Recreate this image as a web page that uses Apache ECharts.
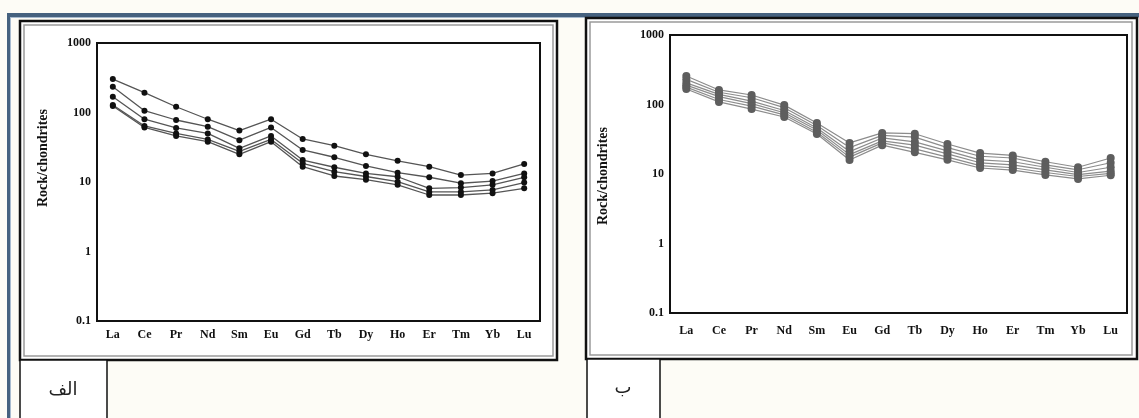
<!DOCTYPE html>
<html>
<head>
<meta charset="utf-8">
<script src="https://cdn.jsdelivr.net/npm/echarts@6/dist/echarts.min.js"></script>
<style>
html,body{margin:0;padding:0;background:#fdfcf6;}
#c{width:1139px;height:418px;}
</style>
</head>
<body>
<div id="c"></div>
<script>
const categories = ['La','Ce','Pr','Nd','Sm','Eu','Gd','Tb','Dy','Ho','Er','Tm','Yb','Lu'];
const yTickLabels = ['0.1','1','10','100','1000'];
const yAxisTitle = 'Rock/chondrites';
const panelLabelA = 'الف';
const panelLabelB = 'ب';

// Panel A (الف)
const a1 = [303,193,121,80,55,80,41.6,33.3,25,20.2,16.6,12.6,13.3,18.2];
const a2 = [235,106,78,62.5,40,61,28.9,22.7,17,13.6,11.7,9.6,10.3,13.3];
const a3 = [169,80,60,50,30.5,46,20.7,16.3,13.3,11.9,8.1,8.3,9.1,11.7];
const a4 = [128,64,50,41,27.5,41,18.6,14.1,12,10.1,7.2,7.2,7.7,9.8];
const a5 = [124,61,46,38,25,38,16.6,12.2,10.8,9.1,6.5,6.5,6.9,8.1];

// Panel B (ب)
const b1 = [257,162,137,98,54,28,39,38,27,20,18.5,15,12.5,17];
const b2 = [230,150,125,90,50,24,36,34,24,18,17,13.5,11.5,14.5];
const b3 = [205,140,112,82,46,21,33,29,21.5,16,15,12.5,10.5,12.5];
const b4 = [190,130,103,76,43,19,30,26,19.5,14.5,13.5,11.5,9.8,11];
const b5 = [178,118,95,71,40,17.5,28,23,17.5,13.2,12.3,10.5,9.2,10.2];
const b6 = [167,109,86,66,37.7,15.9,26,20.5,16,12.2,11.4,9.7,8.5,9.6];

const seriesA = [a1,a2,a3,a4,a5];
const seriesB = [b1,b2,b3,b4,b5,b6];

const serif = 'Liberation Serif';

function xAxisCfg(gi, margin){
  return {
    type:'category', gridIndex:gi, data:categories, boundaryGap:true,
    axisLine:{show:false}, axisTick:{show:false}, splitLine:{show:false},
    axisLabel:{color:'#111', fontFamily:serif, fontWeight:'bold', fontSize:12, margin:margin, interval:0}
  };
}
function yAxisCfg(gi){
  return {
    type:'log', logBase:10, gridIndex:gi, min:0.1, max:1000, splitNumber:4,
    axisLine:{show:false}, axisTick:{show:false}, splitLine:{show:false},
    axisLabel:{color:'#111', fontFamily:serif, fontWeight:'bold', fontSize:12, margin:6,
      formatter:function(v, i){ return yTickLabels[i]; }}
  };
}

const series = [];
seriesA.forEach(function(d){
  series.push({type:'line', xAxisIndex:0, yAxisIndex:0, data:d, symbol:'circle', symbolSize:6,
    itemStyle:{color:'#111'}, lineStyle:{color:'#555', width:1.3}, silent:true, animation:false, z:3});
});
seriesB.forEach(function(d){
  series.push({type:'line', xAxisIndex:1, yAxisIndex:1, data:d, symbol:'circle', symbolSize:8,
    itemStyle:{color:'#5e5e5e'}, lineStyle:{color:'#8c8c8c', width:1.2}, silent:true, animation:false, z:3});
});

const chart = echarts.init(document.getElementById('c'), null, {renderer:'canvas'});
chart.setOption({
  backgroundColor:'#fdfcf6',
  animation:false,
  grid:[
    {left:97, top:43, width:443, height:278, show:true, borderColor:'#111', borderWidth:2, backgroundColor:'#fff'},
    {left:670, top:35, width:457, height:278, show:true, borderColor:'#111', borderWidth:2, backgroundColor:'#fff'}
  ],
  xAxis:[xAxisCfg(0,8), xAxisCfg(1,12)],
  yAxis:[yAxisCfg(0), yAxisCfg(1)],
  series:series,
  graphic:[
    // outer blue frame
    {type:'rect', z:-20, shape:{x:7,y:13,width:1132,height:4}, style:{fill:'#46627f'}},
    {type:'rect', z:-20, shape:{x:7,y:17,width:1132,height:1}, style:{fill:'#a9bcd0'}},
    {type:'rect', z:-20, shape:{x:7,y:13,width:3,height:405}, style:{fill:'#46627f'}},
    {type:'rect', z:-20, shape:{x:10,y:17,width:1,height:401}, style:{fill:'#a9bcd0'}},
    // left panel frame
    {type:'rect', z:-15, shape:{x:20,y:21,width:537,height:339}, style:{fill:'#fff', stroke:'#111', lineWidth:2.5}},
    {type:'rect', z:-14, shape:{x:24,y:25,width:529,height:331}, style:{fill:'#fff', stroke:'#9a9a9a', lineWidth:1.5}},
    // right panel frame
    {type:'rect', z:-15, shape:{x:586,y:18,width:551,height:341}, style:{fill:'#fff', stroke:'#111', lineWidth:2.5}},
    {type:'rect', z:-14, shape:{x:590,y:22,width:542,height:333}, style:{fill:'#fff', stroke:'#9a9a9a', lineWidth:1.5}},
    // label boxes
    {type:'rect', z:-13, shape:{x:20,y:360,width:87,height:62}, style:{fill:'#fff', stroke:'#111', lineWidth:1.5}},
    {type:'rect', z:-13, shape:{x:587,y:359,width:73,height:63}, style:{fill:'#fff', stroke:'#111', lineWidth:1.5}},
    {type:'text', z:10, x:63, y:390, style:{text:panelLabelA, fill:'#222', font:'18px "DejaVu Sans"', textAlign:'center', textVerticalAlign:'middle'}},
    {type:'text', z:10, x:623, y:388, style:{text:panelLabelB, fill:'#222', font:'18px "DejaVu Sans"', textAlign:'center', textVerticalAlign:'middle'}},
    // y axis titles
    {type:'text', z:10, x:43, y:158, rotation:Math.PI/2, style:{text:yAxisTitle, fill:'#111', font:'bold 14px "Liberation Serif"', textAlign:'center', textVerticalAlign:'middle'}},
    {type:'text', z:10, x:603, y:176, rotation:Math.PI/2, style:{text:yAxisTitle, fill:'#111', font:'bold 14px "Liberation Serif"', textAlign:'center', textVerticalAlign:'middle'}}
  ]
});
</script>
</body>
</html>
